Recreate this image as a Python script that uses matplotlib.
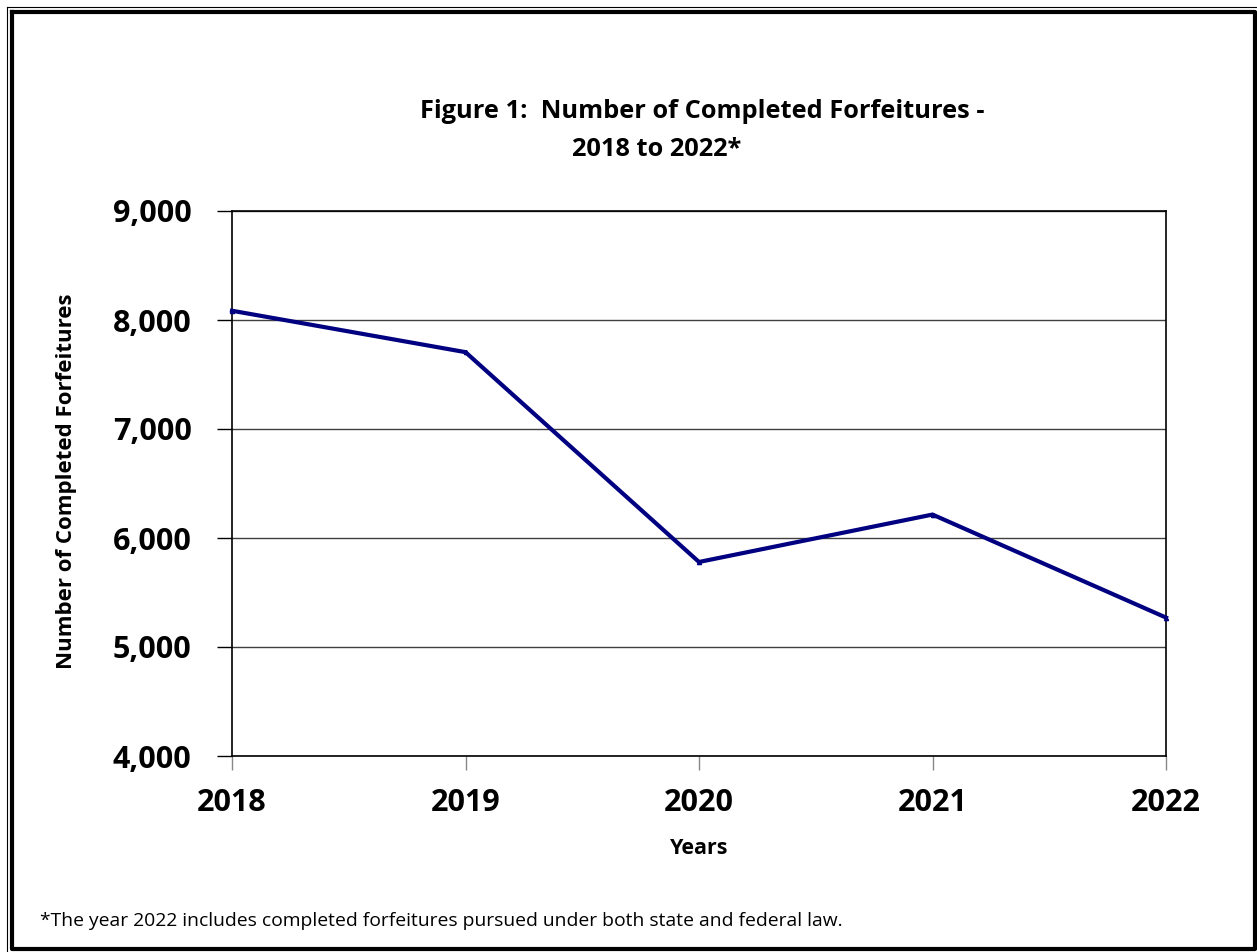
import matplotlib
matplotlib.use('Agg')
import matplotlib.pyplot as plt
from matplotlib.lines import Line2D
from matplotlib.ticker import FuncFormatter

years = ['2018', '2019', '2020', '2021', '2022']
forfeitures = [8085, 7705, 5780, 6215, 5270]
y_ticks = [4000, 5000, 6000, 7000, 8000, 9000]

W, H = 1257, 952
plt.rcParams['font.family'] = ['Open Sans', 'DejaVu Sans']

fig = plt.figure(figsize=(W / 100, H / 100), dpi=100)
ax = fig.add_axes([232 / W, 1 - 756 / H, (1166 - 232) / W, (756 - 211) / H])

x = list(range(len(years)))
ax.plot(x, forfeitures, color='#000080', lw=3.0, marker='^', ms=3,
        solid_joinstyle='miter', zorder=3, clip_on=False)

ax.set_xlim(0, len(years) - 1)
ax.set_ylim(y_ticks[0], y_ticks[-1])
ax.set_xticks(x)
ax.set_xticklabels(years, fontsize=22, fontweight='bold')
ax.set_yticks(y_ticks)
ax.yaxis.set_major_formatter(FuncFormatter(lambda v, p: f'{int(v):,}'))
for lab in ax.get_yticklabels():
    lab.set_fontsize(22)
    lab.set_fontweight('bold')
ax.tick_params(axis='y', direction='out', length=11, width=1, pad=18)
ax.tick_params(axis='x', direction='out', length=10, width=1, pad=13, color='#888888')
ax.grid(axis='y', color='#404040', lw=1)
for s in ax.spines.values():
    s.set_linewidth(1.2)
    s.set_color('black')

ax.set_xlabel('Years', fontsize=15.5, fontweight='bold')
ax.xaxis.set_label_coords(0.5, -(838 - 756) / 545)
ax.set_ylabel('Number of Completed Forfeitures', fontsize=16, fontweight='bold', va='center')
ax.yaxis.set_label_coords((67 - 232) / 934, 0.5 + 2 / 545)

fig.text(702 / W, 1 - 111 / H, 'Figure 1:  Number of Completed Forfeitures -',
         ha='center', va='center', fontsize=18.3, fontweight='bold')
fig.text(657 / W, 1 - 150 / H, '2018 to 2022*',
         ha='center', va='center', fontsize=18.3, fontweight='bold')
fig.text(40 / W, 1 - 921 / H,
         '*The year 2022 includes completed forfeitures pursued under both state and federal law.',
         ha='left', va='center', fontsize=13.9)

# double frame around the page
def px_line(xs, ys, lw):
    fig.add_artist(Line2D([v / W for v in xs], [1 - v / H for v in ys],
                          transform=fig.transFigure, color='black', lw=lw,
                          solid_capstyle='projecting'))

px_line([6.5, W], [6.5, 6.5], 0.8)
px_line([6.5, 6.5], [6.5, H], 0.8)
px_line([12, 1254.5, 1254.5, 12, 12], [12, 12, 949, 949, 12], 3.0)

fig.savefig('out.png', dpi=100)
